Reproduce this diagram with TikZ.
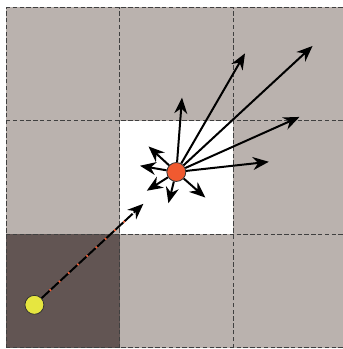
\documentclass[tikz,border=0pt]{standalone}
\usetikzlibrary{arrows.meta}
\definecolor{cellgray}{RGB}{186,178,174}
\definecolor{celldark}{RGB}{98,85,83}
\definecolor{ballred}{RGB}{240,90,48}
\definecolor{ballyellow}{RGB}{230,230,64}
\tikzset{
  gridline/.style={draw=black!75,line width=0.5pt,dash pattern=on 2.2pt off 1.2pt},
  ray/.style={line width=1pt,-{Stealth[length=8pt,width=6.5pt]}},
  ball/.style={circle,draw=black!80,line width=0.4pt,minimum size=9.5pt,inner sep=0pt}
}
\begin{document}
\begin{tikzpicture}[line join=round]
	\useasboundingbox (-0.106,-0.018) rectangle (5.92,6.13);
	% cells
	\fill[cellgray] (0,0) rectangle (6,6);
	\fill[white] (2,2) rectangle (4,4);
	\fill[celldark] (0,0) rectangle (2,2);
	\draw[gridline,step=2] (0,0) grid (6,6);
	\node[ball,fill=ballred] (src) at (3.0,3.1) {};
	\node[ball,fill=ballyellow] (emit) at (0.5,0.76) {};
	\path
	(3.10,4.41) coordinate (t1)
	(4.21,5.19) coordinate (t2)
	(5.40,5.32) coordinate (t3)
	(5.17,4.07) coordinate (t4)
	(4.63,3.28) coordinate (t5)
	(2.51,3.55) coordinate (t6)
	(2.36,3.21) coordinate (t7)
	(2.48,2.77) coordinate (t8)
	(2.86,2.55) coordinate (t9)
	(3.51,2.65) coordinate (t10)
	(2.42,2.54) coordinate (hit);
	\foreach \i in {1,...,10} \draw[ray] (src)--(t\i);
	% incoming ray, dashed with red specks
	\draw[ray,dash pattern=on 5.5pt off 0.8pt] (emit)--(hit);
	\draw[ballred,line width=1pt,dash pattern=on 0pt off 5.5pt on 0.8pt off 0pt,shorten >=9pt] (emit)--(hit);
\end{tikzpicture}
\end{document}
